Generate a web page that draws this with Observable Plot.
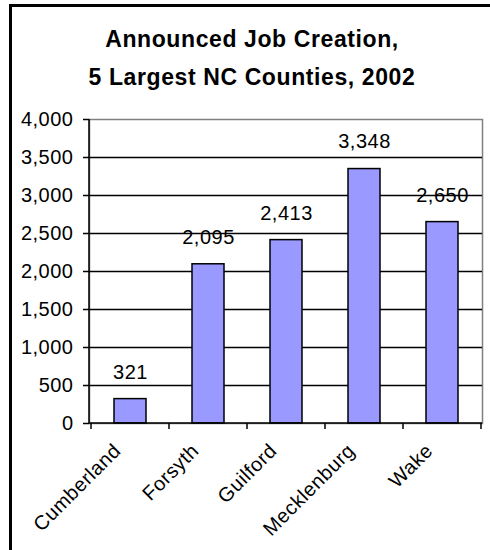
<!DOCTYPE html>
<html>
<head>
<meta charset="utf-8">
<script src="https://cdn.jsdelivr.net/npm/d3@7"></script>
<script src="https://cdn.jsdelivr.net/npm/@observablehq/plot@0.6"></script>
<style>
  html, body { margin: 0; padding: 0; background: #fff; overflow: hidden; }
  body { width: 490px; height: 550px; position: relative; font-family: "Liberation Sans", Arial, sans-serif; }
  #frame { position: absolute; left: 9px; top: 4px; width: 700px; height: 700px;
           border-left: 3px solid #000; border-top: 3px solid #000; box-sizing: border-box; }
  #title { position: absolute; left: 0; top: 0; width: 504px; height: 100px; box-sizing: border-box;
           padding-top: 20px; text-align: center; font-weight: bold; font-size: 23px; letter-spacing: 0.6px;
           line-height: 38px; color: #000; }
  #chart { position: absolute; left: 0; top: 100px; }
</style>
</head>
<body>
<div id="frame"></div>
<div id="title">Announced Job Creation,<br>5 Largest NC Counties, 2002</div>
<div id="chart"></div>
<script>
const counties = ["Cumberland", "Forsyth", "Guilford", "Mecklenburg", "Wake"];
const jobs = [321, 2095, 2413, 3348, 2650];
const yTicks = [0, 500, 1000, 1500, 2000, 2500, 3000, 3500, 4000];

const data = counties.map((county, i) => ({county, jobs: jobs[i]}));
const fmt = d3.format(",");

// black axis lines on the left and bottom, with category-boundary ticks below
function axisLines(index, scales, values, dims) {
  const x = scales.x;
  const {width, height, marginLeft, marginRight, marginTop, marginBottom} = dims;
  const left = marginLeft, right = width - marginRight, bottom = height - marginBottom;
  const step = x.step(), bw = x.bandwidth();
  const g = d3.create("svg:g").attr("stroke", "black").attr("stroke-width", 1.5).attr("fill", "none");
  g.append("line").attr("x1", left).attr("x2", left).attr("y1", marginTop).attr("y2", bottom);
  g.append("line").attr("x1", left).attr("x2", right).attr("y1", bottom).attr("y2", bottom);
  const bounds = counties.map(c => x(c) - (step - bw) / 2);
  bounds.push(bounds[bounds.length - 1] + step);
  for (const b of bounds) {
    g.append("line").attr("x1", b).attr("x2", b).attr("y1", bottom).attr("y2", bottom + 6);
  }
  return g.node();
}

const chart = Plot.plot({
  width: 490,
  height: 450,
  marginLeft: 89,
  marginRight: 8,
  marginTop: 19,
  marginBottom: 127,
  style: {fontFamily: "'Liberation Sans', Arial, sans-serif", fontSize: "20px", color: "#000", background: "transparent", letterSpacing: "0.5px"},
  x: {type: "band", domain: counties, paddingInner: 0.59, paddingOuter: 0.295, align: 0.5, axis: null},
  y: {domain: [0, 4000], axis: null},
  marks: [
    Plot.frame({stroke: "#808080", strokeWidth: 1.5}),
    Plot.ruleY(yTicks.filter(v => v > 0 && v < 4000), {stroke: "black", strokeWidth: 1.5}),
    Plot.barY(data, {x: "county", y: "jobs", fill: "#9999ff", stroke: "black", strokeWidth: 1.5}),
    axisLines,
    Plot.axisY({ticks: yTicks, tickFormat: fmt, tickSize: 6, tickPadding: 10, strokeWidth: 1.5, fontSize: 20, label: null}),
    Plot.axisX({tickSize: 0, tickRotate: -45, tickPadding: 10, dx: -13, dy: 14, fontSize: 20, label: null}),
    Plot.text(data, {x: "county", y: "jobs", text: d => fmt(d.jobs), dy: -27, fontSize: 20, fill: "black"})
  ]
});
document.getElementById("chart").appendChild(chart);
</script>
</body>
</html>
